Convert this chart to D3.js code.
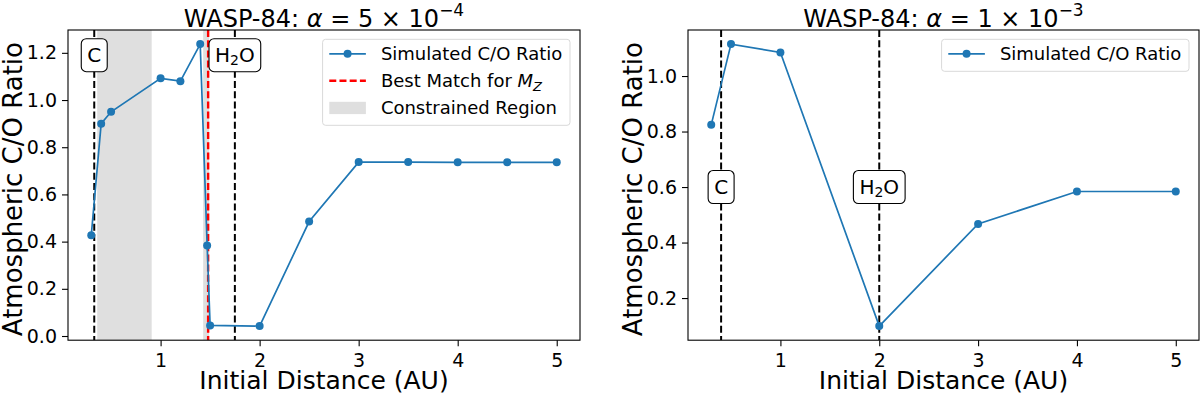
<!DOCTYPE html>
<html>
<head>
<meta charset="utf-8">
<script src="https://cdn.jsdelivr.net/npm/d3@7"></script>
<style>
body { margin: 0; background: #fff; }
svg text { font-family: "DejaVu Sans", "Liberation Sans", sans-serif; fill: #000; }
</style>
</head>
<body>
<div id="chart"></div>
<script>
// left panel, alpha = 5e-4
var leftDist = [0.3, 0.4, 0.5, 1.0, 1.2, 1.4, 1.47, 1.5, 2.0, 2.5, 3.0, 3.5, 4.0, 4.5, 5.0];
var leftCO = [0.427, 0.90, 0.95, 1.092, 1.08, 1.237, 0.384, 0.045, 0.042, 0.485, 0.737, 0.737, 0.736, 0.736, 0.736];
var leftIceLines = [0.33, 1.75];
var leftIceLabelY = 1.19;
var leftBestMatch = 1.48;
var leftConstrained = [[0.36, 0.91], [1.43, 1.49]];
var leftYTicks = [0.0, 0.2, 0.4, 0.6, 0.8, 1.0, 1.2];

// right panel, alpha = 1e-3
var rightDist = [0.3, 0.5, 1.0, 2.0, 3.0, 4.0, 5.0];
var rightCO = [0.824, 1.115, 1.085, 0.099, 0.467, 0.584, 0.584];
var rightIceLines = [0.4, 2.0];
var rightIceLabelY = 0.6;
var rightYTicks = [0.2, 0.4, 0.6, 0.8, 1.0];

var iceNames = ["C", "H2O"];
var xTicks = [1, 2, 3, 4, 5];

// canvas
var width = 1200;
var height = 395;
var plotTop = 30;
var plotH = 310.2;
var blue = "#1f77b4";

var svg = d3.select("#chart")
    .append("svg")
    .attr("width", width)
    .attr("height", height);

// matplotlib-like 5% margins
function padExtent(arr) {
    var e = d3.extent(arr);
    var m = (e[1] - e[0]) * 0.05;
    return [e[0] - m, e[1] + m];
}

function drawPanel(cfg) {
    var w = cfg.right - cfg.left;
    var g = svg.append("g")
        .attr("transform", "translate(" + cfg.left + "," + plotTop + ")");

    var x = d3.scaleLinear().domain(padExtent(cfg.dist)).range([0, w]);
    var y = d3.scaleLinear().domain(padExtent(cfg.co)).range([plotH, 0]);

    var clipId = "clip" + cfg.left;
    g.append("clipPath").attr("id", clipId)
        .append("rect").attr("width", w).attr("height", plotH);
    var plot = g.append("g").attr("clip-path", "url(#" + clipId + ")");

    // constrained region
    (cfg.constrained || []).forEach(function(r) {
        plot.append("rect")
            .attr("x", x(r[0]))
            .attr("width", x(r[1]) - x(r[0]))
            .attr("y", 0)
            .attr("height", plotH)
            .attr("fill", "#dfdfdf");
    });

    // ice lines
    cfg.ice.forEach(function(d) {
        plot.append("line")
            .attr("x1", x(d)).attr("x2", x(d))
            .attr("y1", 0).attr("y2", plotH)
            .attr("stroke", "#000")
            .attr("stroke-width", 2)
            .attr("stroke-dasharray", "7,3.2");
    });

    // best match
    if (cfg.best != null) {
        plot.append("line")
            .attr("x1", x(cfg.best)).attr("x2", x(cfg.best))
            .attr("y1", 0).attr("y2", plotH)
            .attr("stroke", "#ff0000")
            .attr("stroke-width", 2.4)
            .attr("stroke-dasharray", "7,3.2");
    }

    // line + markers
    var line = d3.line()
        .x(function(d, i) { return x(cfg.dist[i]); })
        .y(function(d) { return y(d); });
    plot.append("path")
        .datum(cfg.co)
        .attr("d", line)
        .attr("fill", "none")
        .attr("stroke", blue)
        .attr("stroke-width", 1.7);
    plot.selectAll(".dot")
        .data(cfg.co)
        .enter()
        .append("circle")
        .attr("class", "dot")
        .attr("cx", function(d, i) { return x(cfg.dist[i]); })
        .attr("cy", function(d) { return y(d); })
        .attr("r", 4)
        .attr("fill", blue);

    // ice labels in boxes
    cfg.ice.forEach(function(d, i) {
        var lg = g.append("g");
        var t = lg.append("text")
            .attr("x", x(d))
            .attr("y", y(cfg.labelY))
            .attr("dy", "0.36em")
            .attr("text-anchor", "middle")
            .style("font-size", "20px");
        if (iceNames[i] == "H2O") {
            t.append("tspan").text("H");
            t.append("tspan").text("2").style("font-size", "14px").attr("dy", "0.2em");
            t.append("tspan").text("O").attr("dy", "-0.14em");
        } else {
            t.text(iceNames[i]);
        }
        var bb = t.node().getBBox();
        lg.insert("rect", "text")
            .attr("x", bb.x - 6)
            .attr("y", y(cfg.labelY) - 16.5)
            .attr("width", bb.width + 12)
            .attr("height", 33)
            .attr("rx", 5)
            .attr("fill", "#fff")
            .attr("stroke", "#000")
            .attr("stroke-width", 1.1);
    });

    // axes
    var xAxis = d3.axisBottom(x)
        .tickValues(xTicks)
        .tickFormat(d3.format("d"))
        .tickSizeInner(6)
        .tickSizeOuter(0)
        .tickPadding(7);
    var yAxis = d3.axisLeft(y)
        .tickValues(cfg.yTicks)
        .tickFormat(d3.format(".1f"))
        .tickSizeInner(6)
        .tickSizeOuter(0)
        .tickPadding(5);

    var gx = g.append("g")
        .attr("transform", "translate(0," + plotH + ")")
        .call(xAxis);
    var gy = g.append("g").call(yAxis);
    [gx, gy].forEach(function(a) {
        a.select(".domain").remove();
        a.selectAll("line").attr("stroke", "#000").attr("stroke-width", 1.1);
        a.selectAll("text")
            .style("font-size", "19px")
            .style("font-family", "DejaVu Sans, sans-serif")
            .attr("fill", "#000");
    });

    // frame
    g.append("rect")
        .attr("width", w)
        .attr("height", plotH)
        .attr("fill", "none")
        .attr("stroke", "#000")
        .attr("stroke-width", 1.1);

    // axis labels
    g.append("text")
        .attr("x", w / 2)
        .attr("y", 389 - plotTop)
        .attr("text-anchor", "middle")
        .style("font-size", "25px")
        .text("Initial Distance (AU)");
    g.append("text")
        .attr("transform", "translate(" + (-cfg.left + cfg.labelX) + "," + (plotH / 2 + 4) + ") rotate(-90)")
        .attr("text-anchor", "middle")
        .style("font-size", "26px")
        .text("Atmospheric C/O Ratio");

    // title
    var title = g.append("text")
        .attr("x", w / 2)
        .attr("y", 27 - plotTop)
        .attr("text-anchor", "middle")
        .style("font-size", "24px");
    title.append("tspan").text("WASP-84: ");
    title.append("tspan").text("\u03b1").style("font-style", "italic");
    title.append("tspan").text(" = " + cfg.alphaMant + " \u00d7 10");
    title.append("tspan").text("\u2212" + cfg.alphaExp)
        .style("font-size", "17px")
        .attr("dy", "-0.62em");

    // legend
    var entries = cfg.legend;
    var lgd = g.append("g");
    var texts = [];
    entries.forEach(function(e, i) {
        var t = lgd.append("text")
            .attr("y", 14.5 + i * 27)
            .attr("dy", "0.36em")
            .style("font-size", "18px");
        if (e.kind == "best") {
            t.append("tspan").text("Best Match for ");
            t.append("tspan").text("M").style("font-style", "italic");
            t.append("tspan").text("Z").style("font-style", "italic")
                .style("font-size", "13px").attr("dy", "0.25em");
        } else {
            t.text(e.label);
        }
        texts.push(t);
    });
    var textW = d3.max(texts, function(t) { return t.node().getComputedTextLength(); });
    var lw = textW + 66;
    var lh = 14.5 + (entries.length - 1) * 27 + 17.5;
    var lx = w - 10 - lw;
    var ly = 9.3;
    lgd.attr("transform", "translate(" + lx + "," + ly + ")");
    lgd.insert("rect", "text")
        .attr("width", lw)
        .attr("height", lh)
        .attr("rx", 3)
        .attr("fill", "#fff")
        .attr("fill-opacity", 0.8)
        .attr("stroke", "#d9d9d9")
        .attr("stroke-width", 1);
    texts.forEach(function(t) { t.attr("x", 58.3); });
    entries.forEach(function(e, i) {
        var cy = 14.5 + i * 27;
        if (e.kind == "line") {
            lgd.append("line")
                .attr("x1", 6.7).attr("x2", 43.3)
                .attr("y1", cy).attr("y2", cy)
                .attr("stroke", blue).attr("stroke-width", 1.7);
            lgd.append("circle").attr("cx", 25).attr("cy", cy).attr("r", 4).attr("fill", blue);
        } else if (e.kind == "best") {
            lgd.append("line")
                .attr("x1", 6.7).attr("x2", 43.3)
                .attr("y1", cy).attr("y2", cy)
                .attr("stroke", "#ff0000").attr("stroke-width", 2.4)
                .attr("stroke-dasharray", "7,3.2");
        } else {
            lgd.append("rect")
                .attr("x", 6.7).attr("width", 36.6)
                .attr("y", cy - 6).attr("height", 12.3)
                .attr("fill", "#dfdfdf");
        }
    });
}

drawPanel({
    left: 68, right: 580, labelX: 22,
    dist: leftDist, co: leftCO, ice: leftIceLines, labelY: leftIceLabelY,
    best: leftBestMatch, constrained: leftConstrained, yTicks: leftYTicks,
    alphaMant: "5", alphaExp: "4",
    legend: [
        { kind: "line", label: "Simulated C/O Ratio" },
        { kind: "best", label: "Best Match for MZ" },
        { kind: "region", label: "Constrained Region" }
    ]
});

drawPanel({
    left: 688, right: 1199, labelX: 642,
    dist: rightDist, co: rightCO, ice: rightIceLines, labelY: rightIceLabelY,
    best: null, constrained: [], yTicks: rightYTicks,
    alphaMant: "1", alphaExp: "3",
    legend: [
        { kind: "line", label: "Simulated C/O Ratio" }
    ]
});
</script>
</body>
</html>
